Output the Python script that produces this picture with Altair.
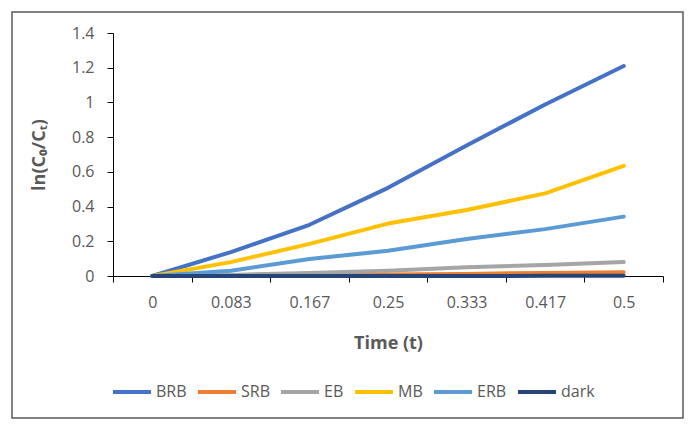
import altair as alt
import pandas as pd

# Sampling times (h) shown as categories on the x axis
times = ["0", "0.083", "0.167", "0.25", "0.333", "0.417", "0.5"]

# ln(C0/Ct) for each dye / condition
brb = [0.0, 0.138, 0.295, 0.508, 0.752, 0.988, 1.21]
srb = [0.0, 0.002, 0.005, 0.008, 0.012, 0.018, 0.022]
eb = [0.0, 0.006, 0.018, 0.03, 0.05, 0.064, 0.08]
mb = [0.0, 0.08, 0.185, 0.302, 0.38, 0.476, 0.635]
erb = [0.0, 0.03, 0.098, 0.145, 0.213, 0.27, 0.342]
dark = [0.0, 0.0, 0.0, 0.0, 0.0, 0.001, 0.002]

series_names = ["BRB", "SRB", "EB", "MB", "ERB", "dark"]
series_colors = ["#4472C4", "#ED7D31", "#A5A5A5", "#FFC000", "#5B9BD5", "#264478"]
series_values = [brb, srb, eb, mb, erb, dark]

rows = []
for name, vals in zip(series_names, series_values):
    for t, v in zip(times, vals):
        rows.append({"t": t, "value": v, "series": name})
df = pd.DataFrame(rows)

FONT = "Open Sans"
GREY = "#595959"

lines = alt.Chart(df).mark_line(strokeWidth=4, strokeCap="round", strokeJoin="round").encode(
    x=alt.X(
        "t:N",
        sort=times,
        scale=alt.Scale(paddingInner=0, paddingOuter=0),
        axis=alt.Axis(
            title="Time (t)",
            labelAngle=0,
            tickBand="extent",
            tickSize=6,
            labelPadding=12,
            titlePadding=24,
        ),
    ),
    y=alt.Y(
        "value:Q",
        scale=alt.Scale(domain=[0, 1.4], nice=False),
        axis=alt.Axis(
            title="ln(C₀/Cₜ)",
            values=[0, 0.2, 0.4, 0.6, 0.8, 1.0, 1.2, 1.4],
            format="~g",
            tickSize=6,
            labelPadding=13,
            titlePadding=23,
            grid=False,
        ),
    ),
    color=alt.Color(
        "series:N",
        sort=series_names,
        scale=alt.Scale(domain=series_names, range=series_colors),
        legend=alt.Legend(
            title=None,
            orient="none",
            direction="horizontal",
            legendX=-2,
            legendY=338,
            symbolType="stroke",
            symbolSize=1444,
            symbolStrokeWidth=4,
            labelOffset=3,
            columnPadding=3,
            labelFont=FONT,
            labelFontSize=16,
            labelColor=GREY,
        ),
    ),
)

# Outer frame around the whole figure
frame = alt.Chart(pd.DataFrame({"k": [0]})).mark_rect(
    fill=None, stroke="#595959", strokeWidth=1.5
).encode(
    x=alt.value(-101), x2=alt.value(570), y=alt.value(-21), y2=alt.value(385)
)

chart = alt.layer(frame, lines).properties(
    width=550,
    height=243,
    autosize=alt.AutoSizeParams(type="none"),
    padding={"left": 113, "top": 33, "right": 33, "bottom": 155},
    background="white",
).configure_view(stroke=None).configure_axis(
    labelFont=FONT,
    labelFontSize=16,
    labelColor=GREY,
    titleFont=FONT,
    titleFontSize=18,
    titleFontWeight="bold",
    titleColor=GREY,
    domainColor="#000000",
    tickColor="#000000",
    domainWidth=1,
    tickWidth=1,
)

chart.save("out.html", embed_options={"renderer": "svg", "actions": False})
